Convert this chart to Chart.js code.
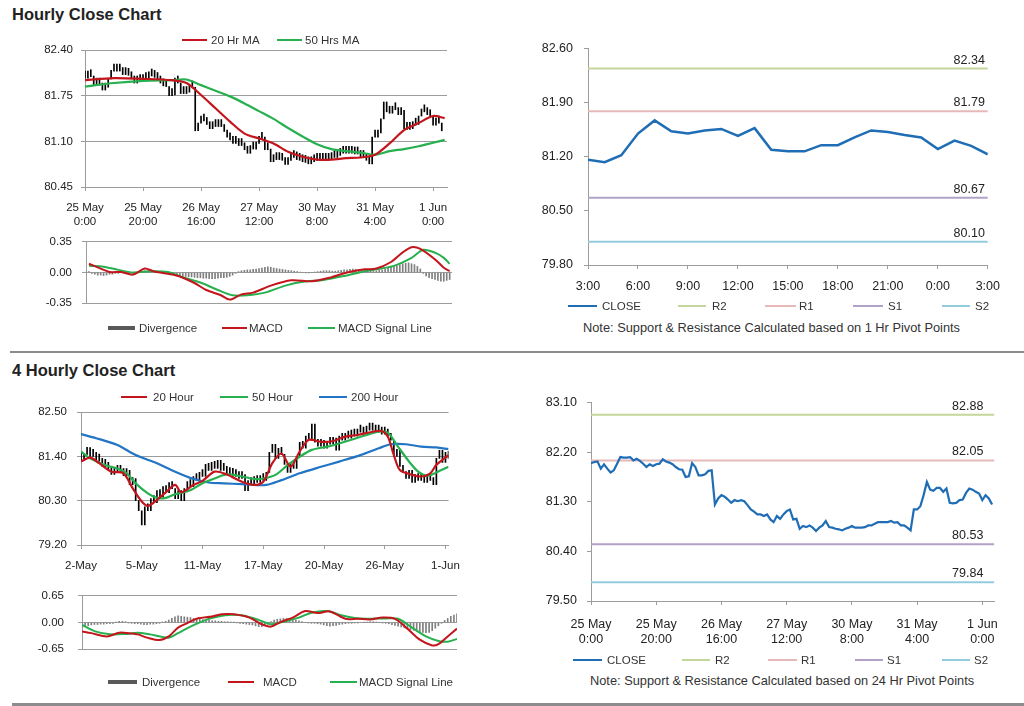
<!DOCTYPE html>
<html>
<head>
<meta charset="utf-8">
<script src="https://cdn.jsdelivr.net/npm/chart.js@4.4.1/dist/chart.umd.min.js"></script>
<style>
  body { margin: 0; background: #fff; font-family: "Liberation Sans", Arial, sans-serif; color: #222; }
  #page { position: relative; width: 1024px; height: 706px; overflow: hidden; }
  canvas { position: absolute; }
  .title { position: absolute; left: 12px; font-weight: bold; font-size: 16.5px; line-height: 20px; }
  .sep { position: absolute; left: 10px; right: 0; background: #8c8c8c; }
  .lg { position: absolute; line-height: 14px; white-space: nowrap; color: #333; }
  .sw { position: absolute; }
  .note { position: absolute; font-size: 12.8px; line-height: 14px; white-space: nowrap; color: #333; }
</style>
</head>
<body>
<div id="page">
  <div class="title" style="top:4px">Hourly Close Chart</div>
  <div class="title" style="top:360px">4 Hourly Close Chart</div>
  <div class="sep" style="top:351px;height:2px"></div>
  <div class="sep" style="top:703px;height:3px;left:12px"></div>
  <canvas id="hourPrice" width="460" height="200" style="left:0;top:30px"></canvas>
  <canvas id="hourMacd" width="470" height="95" style="left:0;top:225px"></canvas>
  <canvas id="hourPivot" width="490" height="270" style="left:520px;top:30px"></canvas>
  <canvas id="fourPrice" width="470" height="195" style="left:0;top:385px"></canvas>
  <canvas id="fourMacd" width="470" height="95" style="left:0;top:575px"></canvas>
  <canvas id="dayPivot" width="490" height="265" style="left:520px;top:385px"></canvas>
  <div class="note" style="left:583px;top:321px">Note: Support &amp; Resistance Calculated based on 1 Hr Pivot Points</div>
  <div class="note" style="left:590px;top:674px">Note: Support &amp; Resistance Calculated based on 24 Hr Pivot Points</div>
</div>
<script>
// hourly series, hour 0 = 25 May 0:00
const hourTicks = [['25 May', '0:00'], ['25 May', '20:00'], ['26 May', '16:00'], ['27 May', '12:00'], ['30 May', '8:00'], ['31 May', '4:00'], ['1 Jun', '0:00']];
const hourTickAt = [0, 20, 40, 60, 80, 100, 120];

const hourClose = [
  82.00, 82.02, 82.03, 81.90, 81.98, 81.90, 81.83, 81.87, 81.99, 82.11,
  82.10, 82.10, 82.11, 82.05, 82.08, 82.04, 81.99, 81.93, 81.98, 81.95,
  81.98, 81.99, 82.07, 82.03, 82.01, 81.98, 81.93, 81.89, 81.88, 81.75,
  81.76, 82.00, 81.93, 81.78, 81.78, 81.80, 81.86, 81.87, 81.25, 81.36,
  81.42, 81.39, 81.34, 81.28, 81.33, 81.31, 81.33, 81.31, 81.24, 81.16,
  81.12, 81.07, 81.07, 81.04, 81.07, 80.98, 80.93, 81.04, 80.99, 81.07,
  81.13, 81.16, 80.98, 80.99, 80.81, 80.86, 80.84, 80.87, 80.83, 80.77,
  80.83, 80.87, 80.95, 80.84, 80.83, 80.81, 80.80, 80.78, 80.81, 80.83,
  80.86, 80.83, 80.83, 80.83, 80.84, 80.87, 80.87, 80.90, 80.93, 80.93,
  80.93, 80.93, 80.95, 80.92, 80.93, 80.87, 80.87, 80.83, 80.78, 81.16,
  81.16, 81.22, 81.42, 81.66, 81.52, 81.50, 81.55, 81.55, 81.48, 81.54,
  81.28, 81.27, 81.28, 81.33, 81.34, 81.46, 81.54, 81.52, 81.48, 81.45,
  81.33, 81.42, 81.36, 81.25
];

const maHours = [0, 10, 20, 30, 35, 40, 45, 50, 55, 60, 65, 70, 75, 80, 85, 90, 95, 100, 105, 110, 115, 120, 124];
const ma20Hr = [81.97, 82.00, 81.99, 81.97, 81.93, 81.76, 81.57, 81.38, 81.21, 81.14, 81.07, 80.95, 80.88, 80.84, 80.84, 80.86, 80.87, 80.91, 81.07, 81.26, 81.36, 81.46, 81.43];
const ma50Hr = [81.88, 81.93, 81.96, 81.97, 81.98, 81.90, 81.82, 81.74, 81.64, 81.53, 81.42, 81.29, 81.17, 81.06, 80.99, 80.96, 80.94, 80.91, 80.96, 80.99, 81.03, 81.08, 81.12];

const macdHours = [1, 5, 8, 12, 16, 20, 23, 28, 32, 37, 41, 46, 49, 53, 57, 63, 70, 77, 83, 89, 95, 99, 104, 108, 111, 114, 119, 122, 124];
const macdHr = [0.10, 0.045, 0.006, 0.006, -0.024, 0.045, 0.015, -0.015, -0.045, -0.12, -0.20, -0.26, -0.31, -0.25, -0.23, -0.15, -0.09, -0.10, -0.06, 0.0, 0.036, 0.045, 0.12, 0.23, 0.29, 0.27, 0.15, 0.055, 0.015];
const signalHours = [1, 6, 11, 16, 22, 28, 33, 39, 45, 50, 55, 61, 68, 74, 81, 88, 95, 99, 105, 111, 115, 119, 122, 124];
const signalHr = [0.076, 0.067, 0.03, 0.0, 0.015, 0.006, -0.055, -0.115, -0.20, -0.26, -0.26, -0.23, -0.15, -0.106, -0.085, -0.04, 0.015, 0.036, 0.076, 0.167, 0.26, 0.227, 0.167, 0.10];
const divergenceHr = [
  0.02, 0.01,
  -0.01, -0.02, -0.03, -0.03, -0.035, -0.03, -0.02, -0.02, -0.01,
  -0.01, 0, 0.005, -0.005, -0.01, -0.01, 0, 0.01, 0.015, 0.02,
  0.02, 0.015, 0.01, 0.005, 0, -0.005, -0.01,
  -0.015, -0.02, -0.025, -0.03, -0.035, -0.04, -0.045, -0.05, -0.05, -0.055, -0.06, -0.06,
  -0.065, -0.065, -0.07, -0.07, -0.07, -0.065, -0.06, -0.06, -0.055, -0.045, -0.03,
  -0.01, 0.01, 0.02, 0.025, 0.03, 0.03, 0.035, 0.04, 0.045, 0.05,
  0.06, 0.065, 0.06, 0.05, 0.045, 0.04, 0.035, 0.03, 0.025, 0.02,
  0.015, 0.01, 0.005, 0, -0.005, -0.005, 0, 0.005, 0.01, 0.015,
  0.02, 0.02, 0.02, 0.015, 0.015, 0.02, 0.025, 0.03, 0.03, 0.035,
  0.04, 0.035, 0.035, 0.03, 0.03, 0.025, 0.025, 0.02, 0.02, 0.025, 0.03, 0.04, 0.05, 0.06,
  0.07, 0.08, 0.09, 0.10, 0.105, 0.11, 0.10, 0.09, 0.07, 0.04,
  -0.01, -0.04, -0.06, -0.07, -0.08, -0.09, -0.10, -0.10, -0.09, -0.08
];

// last 24 hours, 31 May 3:00 to 1 Jun 3:00
const pivotTicks = ['3:00', '6:00', '9:00', '12:00', '15:00', '18:00', '21:00', '0:00', '3:00'];
const pivotTickAt = [0, 3, 6, 9, 12, 15, 18, 21, 24];
const pivotClose = [81.16, 81.13, 81.22, 81.50, 81.67, 81.53, 81.50, 81.54, 81.56, 81.47, 81.57, 81.29, 81.27, 81.27, 81.35, 81.35, 81.45, 81.54, 81.52, 81.48, 81.45, 81.30, 81.41, 81.34, 81.23];
const hourPivots = { R2: 82.34, R1: 81.79, S1: 80.67, S2: 80.10 };
const dayPivots = { R2: 82.88, R1: 82.05, S1: 80.53, S2: 79.84 };

// 4 hourly series
const fourTicks = ['2-May', '5-May', '11-May', '17-May', '20-May', '26-May', '1-Jun'];
const fourTickAt = [0, 20, 40, 60, 80, 100, 120];
const fourClose = [
  81.30, 81.45, 81.62, 81.40, 81.50, 81.28, 81.35, 81.15, 81.25, 81.05,
  80.95, 81.10, 81.00, 81.08, 80.92, 81.05, 80.70, 80.85, 80.30, 80.05,
  79.70, 80.15, 80.05, 80.35, 80.25, 80.55, 80.40, 80.65, 80.50, 80.75,
  80.60, 80.35, 80.55, 80.30, 80.60, 80.75, 80.65, 80.90, 80.80, 81.00,
  80.90, 81.20, 81.05, 81.25, 81.10, 81.30, 81.05, 81.15, 80.95, 81.10,
  80.90, 81.00, 80.85, 80.95, 80.55, 80.80, 80.70, 80.90, 80.75, 80.85,
  80.80, 81.00, 81.50, 81.70, 81.35, 81.60, 81.45, 81.20, 81.00, 81.25,
  81.10, 81.40, 81.75, 81.60, 81.90, 81.80, 82.20, 81.75, 81.65, 81.80,
  81.60, 81.75, 81.70, 81.85, 81.55, 81.90, 81.80, 81.95, 81.85, 82.05,
  81.90, 82.00, 82.10, 81.95, 82.15, 82.05, 82.10, 82.00, 82.10, 81.95,
  82.05, 81.90, 81.80, 81.40, 81.55, 81.15, 81.00, 80.85, 81.05, 80.75,
  80.95, 80.80, 80.90, 80.75, 80.85, 80.80, 80.70, 81.35, 81.55, 81.25,
  81.50, 81.35
];
const ma20Idx = [0, 3, 6, 10, 14, 17, 20, 22, 25, 28, 31, 33, 37, 40, 44, 48, 53, 57, 60, 63, 66, 69, 72, 75, 79, 83, 87, 91, 96, 99, 101, 103, 105, 109, 112, 115, 117, 121];
const ma20Four = [81.27, 81.37, 81.23, 81.02, 80.98, 80.61, 80.28, 80.17, 80.32, 80.51, 80.69, 80.51, 80.69, 80.79, 81.02, 80.95, 80.77, 80.69, 80.77, 81.23, 81.47, 81.14, 81.52, 81.81, 81.76, 81.78, 81.89, 81.93, 82.01, 82.03, 81.89, 81.43, 81.06, 80.94, 80.90, 80.98, 81.19, 81.43];
const ma50Idx = [0, 3, 8, 12, 15, 18, 22, 25, 28, 31, 36, 40, 44, 48, 53, 57, 60, 64, 68, 72, 76, 81, 85, 89, 94, 98, 101, 104, 108, 111, 114, 117, 121];
const ma50Four = [81.52, 81.35, 81.18, 81.10, 80.98, 80.73, 80.48, 80.37, 80.37, 80.46, 80.56, 80.73, 80.85, 80.95, 80.90, 80.84, 80.85, 80.94, 81.18, 81.39, 81.56, 81.64, 81.72, 81.81, 81.93, 82.01, 81.99, 81.68, 81.27, 81.02, 80.92, 81.00, 81.14];
const ma200Idx = [0, 5, 12, 18, 25, 31, 37, 42, 47, 53, 57, 61, 66, 72, 79, 85, 92, 98, 102, 107, 112, 117, 121];
const ma200Four = [81.95, 81.85, 81.68, 81.43, 81.23, 81.02, 80.84, 80.75, 80.73, 80.71, 80.69, 80.69, 80.81, 80.98, 81.14, 81.27, 81.43, 81.60, 81.70, 81.70, 81.64, 81.62, 81.58];

const macdIdx = [0, 3, 8, 12, 15, 18, 21, 25, 28, 31, 34, 37, 42, 45, 49, 54, 58, 61, 64, 68, 72, 76, 80, 85, 89, 93, 97, 101, 105, 109, 113, 115, 118, 121];
const macdFour = [-0.22, -0.26, -0.34, -0.25, -0.26, -0.29, -0.37, -0.43, -0.34, -0.125, -0.016, 0.09, 0.146, 0.20, 0.20, 0.12, -0.043, -0.10, 0.01, 0.12, 0.28, 0.23, 0.27, 0.09, 0.09, 0.076, 0.12, 0.09, -0.15, -0.42, -0.56, -0.53, -0.34, -0.15];
const signalIdx = [0, 4, 9, 14, 18, 22, 28, 31, 35, 40, 44, 48, 52, 57, 61, 65, 70, 74, 79, 84, 88, 92, 98, 102, 106, 111, 115, 118, 121];
const signalFour = [-0.06, -0.21, -0.29, -0.28, -0.25, -0.29, -0.37, -0.26, -0.10, 0.065, 0.146, 0.19, 0.17, 0.065, -0.043, 0.02, 0.12, 0.24, 0.28, 0.17, 0.108, 0.09, 0.10, 0.09, -0.10, -0.34, -0.45, -0.47, -0.40];
const divergenceFour = [
  -0.12, -0.10, -0.08, -0.06, -0.05, -0.05, -0.04, -0.04, -0.03, -0.03,
  -0.02, 0.01, 0.03, 0.03, 0.02, -0.01, -0.02, -0.03, -0.03, -0.04,
  -0.05, -0.05, -0.04, -0.04, -0.03, -0.02, 0.01, 0.03, 0.06, 0.10,
  0.14, 0.16, 0.15, 0.14, 0.13, 0.12, 0.10, 0.09, 0.08, 0.07,
  0.06, 0.05, 0.04, 0.04, 0.03, 0.03, 0.02, 0.02, 0.01, 0.01,
  -0.01, -0.02, -0.03, -0.04, -0.05, -0.06, -0.08, -0.10, -0.10, -0.08,
  -0.04, 0.02, 0.06, 0.08, 0.09, 0.10, 0.10, 0.09, 0.08, 0.06,
  0.04, 0.02, 0.0, -0.01, -0.02, -0.02, -0.03, -0.04, -0.06, -0.08,
  -0.09, -0.08, -0.07, -0.05, -0.04, -0.03, -0.02, -0.02, -0.01, -0.01,
  0.0, 0.01, 0.01, 0.02, 0.02, 0.01, 0.0, -0.01, -0.02, -0.03,
  -0.05, -0.07, -0.09, -0.11, -0.13, -0.15, -0.17, -0.19, -0.21, -0.22,
  -0.24, -0.25, -0.24, -0.20, -0.14, -0.08, -0.02, 0.05, 0.10, 0.15, 0.18, 0.21
];

const FONT = '"Liberation Sans", Arial, sans-serif';
const GRID = '#9c9c9c';
const RED = '#c3161c', GREEN = '#27b04f', BLUE = '#2274c4', BAR = '#7f7f7f', CLOSE = '#1f6db5';
const PIVOT = { R2: '#c3d69b', R1: '#e6b9b8', S1: '#b3a2c7', S2: '#93cddd' };
Chart.defaults.font.family = FONT;
Chart.defaults.color = '#222';

const pts = (xs, ys) => ys.map((y, i) => ({ x: xs[i], y }));
const seq = ys => ys.map((y, i) => ({ x: i, y }));
const priceBars = close => close.map((c, i) => ({ x: i, y: [i ? close[i - 1] : c, c] }));
const ticksAt = list => s => { s.ticks = list.map(v => ({ value: v })); };

function line(data, color, width, order, tension) {
  return { type: 'line', data, borderColor: color, borderWidth: width, pointRadius: 0, tension: tension || 0, order };
}
function bars(data, color, minLen) {
  return { type: 'bar', data, backgroundColor: color, barThickness: 1, minBarLength: minLen, order: 5 };
}
function pivotLines(levels, max) {
  return Object.keys(levels).map(k => line([{ x: 0, y: levels[k] }, { x: max, y: levels[k] }], PIVOT[k], 2, 3));
}

function xAxis(max, at, labels, height, fontSize, pad) {
  return {
    type: 'linear', min: 0, max, offset: false,
    afterBuildTicks: ticksAt(at),
    afterFit: s => { s.height = height; },
    grid: { drawOnChartArea: false, color: GRID, tickLength: 4, offset: false },
    border: { color: GRID },
    ticks: { callback: (v, i) => labels[i], autoSkip: false, maxRotation: 0, padding: pad, font: { size: fontSize } }
  };
}
function yAxis(min, max, at, width, fontSize, pad, gridOn) {
  return {
    min, max,
    afterBuildTicks: ticksAt(at),
    afterFit: s => { s.width = width; },
    grid: { drawOnChartArea: gridOn, color: GRID, tickLength: 4 },
    border: { color: GRID },
    ticks: { callback: v => v.toFixed(2), padding: pad, font: { size: fontSize } }
  };
}

const levelLabels = (levels, inset) => ({
  id: 'levelLabels',
  afterDatasetsDraw(chart) {
    const { ctx, chartArea, scales } = chart;
    ctx.save();
    ctx.font = '12.5px ' + FONT;
    ctx.fillStyle = '#222';
    ctx.textAlign = 'right';
    Object.values(levels).forEach(v => ctx.fillText(v.toFixed(2), chartArea.right - inset, scales.y.getPixelForValue(v) - 5));
    ctx.restore();
  }
});

function draw(id, padding, datasets, x, y, plugins) {
  return new Chart(document.getElementById(id), {
    type: 'line',
    data: { datasets },
    options: {
      responsive: false, animation: false, events: [],
      layout: { padding },
      plugins: { legend: { display: false }, tooltip: { enabled: false } },
      scales: { x, y }
    },
    plugins: plugins || []
  });
}

draw('hourPrice', { top: 20, right: 13, left: 0, bottom: 0 }, [
  line(pts(maHours, ma20Hr), RED, 2.2, 1, 0.3),
  line(pts(maHours, ma50Hr), GREEN, 2.2, 2, 0.3),
  bars(priceBars(hourClose), '#000', 7)
], xAxis(124.8, hourTickAt, hourTicks, 43, 11.5, 10),
   yAxis(80.45, 82.40, [82.40, 81.75, 81.10, 80.45], 85, 11.5, 8, true));

draw('hourMacd', { top: 12, right: 18, left: 0, bottom: 6 }, [
  line(pts(macdHours, macdHr), RED, 2, 1, 0.3),
  line(pts(signalHours, signalHr), GREEN, 2, 2, 0.3),
  bars(seq(divergenceHr), BAR, 0)
], Object.assign(xAxis(124.8, hourTickAt, hourTicks, 0, 11, 0), { display: false }),
   yAxis(-0.35, 0.35, [0.35, 0, -0.35], 86, 11.5, 10, true));

draw('hourPivot', { top: 17, right: 15, left: 0, bottom: 0 }, [
  line(seq(pivotClose), CLOSE, 2.5, 1),
  ...pivotLines(hourPivots, 24)
], xAxis(24, pivotTickAt, pivotTicks, 35, 12.5, 10),
   yAxis(79.80, 82.60, [82.60, 81.90, 81.20, 80.50, 79.80], 68, 12.5, 11, false),
   [levelLabels(hourPivots, 3)]);

draw('fourPrice', { top: 27, right: 14, left: 0, bottom: 0 }, [
  line(pts(ma20Idx, ma20Four), RED, 2.2, 1, 0.3),
  line(pts(ma50Idx, ma50Four), GREEN, 2.2, 2, 0.3),
  line(pts(ma200Idx, ma200Four), BLUE, 2.2, 3, 0.3),
  bars(priceBars(fourClose), '#000', 7)
], xAxis(121, fourTickAt, fourTicks, 35, 11.5, 10),
   yAxis(79.20, 82.50, [82.50, 81.40, 80.30, 79.20], 81, 11.5, 10, true));

draw('fourMacd', { top: 10, right: 13, left: 0, bottom: 5 }, [
  line(pts(macdIdx, macdFour), RED, 2, 1, 0.3),
  line(pts(signalIdx, signalFour), GREEN, 2, 2, 0.3),
  bars(seq(divergenceFour), BAR, 0)
], Object.assign(xAxis(121, fourTickAt, fourTicks, 0, 11, 0), { display: false }),
   yAxis(-0.65, 0.65, [0.65, 0, -0.65], 82, 11.5, 14, true));

draw('dayPivot', { top: 17, right: 13, left: 0, bottom: 0 }, [
  line(seq(hourClose), CLOSE, 2.2, 1),
  ...pivotLines(dayPivots, 123.7)
], xAxis(123.7, hourTickAt, hourTicks, 49, 12.5, 12),
   yAxis(79.50, 83.10, [83.10, 82.20, 81.30, 80.40, 79.50], 71, 12.5, 10, false),
   [levelLabels(dayPivots, 11)]);

// html legends
const page = document.getElementById('page');
function legend(y, size, items) {
  items.forEach(([x1, x2, tx, text, color, h]) => {
    const sw = document.createElement('div');
    sw.className = 'sw';
    sw.style.cssText = `left:${x1}px;width:${x2 - x1}px;top:${y - h / 2}px;height:${h}px;background:${color}`;
    page.appendChild(sw);
    const t = document.createElement('div');
    t.className = 'lg';
    t.style.cssText = `left:${tx}px;top:${y - 7}px;font-size:${size}px`;
    t.textContent = text;
    page.appendChild(t);
  });
}
legend(40, 11.5, [[182, 207, 211, '20 Hr MA', RED, 2], [277, 302, 305, '50 Hrs MA', GREEN, 2]]);
legend(328, 11.5, [[108, 135, 139, 'Divergence', '#595959', 4], [222, 247, 249, 'MACD', RED, 2], [308, 335, 338, 'MACD Signal Line', GREEN, 2]]);
legend(306, 11.5, [[568, 597, 602, 'CLOSE', CLOSE, 2], [678, 706, 712, 'R2', PIVOT.R2, 1.5], [765, 796, 799, 'R1', PIVOT.R1, 1.5], [853, 883, 888, 'S1', PIVOT.S1, 1.5], [942, 970, 975, 'S2', PIVOT.S2, 1.5]]);
legend(397, 11.5, [[121, 147, 153, '20 Hour', RED, 2], [220, 248, 252, '50 Hour', GREEN, 2], [319, 347, 351, '200 Hour', BLUE, 2]]);
legend(682, 11.5, [[108, 137, 142, 'Divergence', '#595959', 4], [228, 254, 263, 'MACD', RED, 2], [330, 357, 359, 'MACD Signal Line', GREEN, 2]]);
legend(660, 11.5, [[573, 602, 607, 'CLOSE', CLOSE, 2], [682, 710, 715, 'R2', PIVOT.R2, 1.5], [768, 797, 801, 'R1', PIVOT.R1, 1.5], [855, 883, 887, 'S1', PIVOT.S1, 1.5], [942, 970, 974, 'S2', PIVOT.S2, 1.5]]);
</script>
</body>
</html>
